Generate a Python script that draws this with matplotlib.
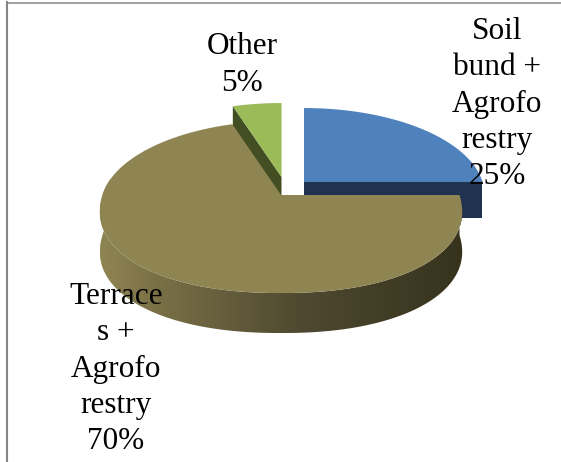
import matplotlib
matplotlib.use('Agg')
import matplotlib.pyplot as plt
from matplotlib.colors import LinearSegmentedColormap
from matplotlib.patches import Polygon
import numpy as np

plt.rcParams['font.family'] = ['Liberation Serif', 'DejaVu Serif']

# clockwise from 12 o'clock
names = ['Soil\nbund +\nAgrofo\nrestry', 'Terrace\ns +\nAgrofo\nrestry', 'Other']
values = [25, 70, 5]
top_colors = ['#4f81bd', '#8f8553', '#9bbb59']
cut_colors = ['#1f3350', '#4a4529', '#434f23']

# where each exploded slice sits and where its label goes (pixels)
apex = [(304, 182), (281, 195), (281.5, 177)]
depth = [36, 40, 36]
label_pos = [(497, 104), (116, 369), (242, 65)]
layer = [5, 8, 2]

RX = 178.5
RY = 86
K = 0.14
NEAR_BULGE = 2.2

side_cmap = LinearSegmentedColormap.from_list(
    'side', [(0, '#8f8553'), (0.15, '#7b7147'), (0.55, '#4e4930'), (1, '#37321c')])


def project(frac, center):
    # frac is position round the pie, 0 = top, going clockwise
    a = 2 * np.pi * np.asarray(frac)
    px = np.sin(a)
    py = np.cos(a)
    # near side of the pie looks a bit fuller than a true ellipse
    near = py < 0
    px = np.where(near, np.sign(px) * np.abs(px) ** (2 / NEAR_BULGE), px)
    py = np.where(near, -np.abs(py) ** (2 / NEAR_BULGE), py)
    w = 1 + K * py
    return center[0] + RX * px / w, center[1] - RY * (py + K) / w + RY * K


fig = plt.figure(figsize=(5.61, 4.62), dpi=100)
ax = fig.add_axes([0, 0, 1, 1])

edges = np.cumsum([0] + values) / sum(values)

for i in range(len(values)):
    start, end = edges[i], edges[i + 1]
    c = apex[i]
    d = depth[i]
    z = layer[i]
    t = np.linspace(start, end, 300)
    x, y = project(t, c)

    if names[i].startswith('Terrace'):
        # outer wall with left to right shading
        front = np.cos(2 * np.pi * t) < 0.2
        fx, fy = x[front], y[front]
        outline = np.vstack([np.column_stack([fx, fy]), np.column_stack([fx, fy + d])[::-1]])
        wall = Polygon(outline, closed=True, fc='none', ec='none', transform=ax.transData)
        ax.add_patch(wall)
        img = ax.imshow(np.linspace(0, 1, 256)[None, :], extent=(fx.min(), fx.max(), fy.max() + d, fy.min()),
                        cmap=side_cmap, aspect='auto', zorder=z, interpolation='bilinear')
        img.set_clip_path(wall)
    else:
        # cut face that looks to the front
        ex, ey = project(end if i == 0 else start, c)
        ax.add_patch(Polygon([c, (ex, ey), (ex, ey + d), (c[0], c[1] + d)], closed=True,
                             fc=cut_colors[i], ec='none', zorder=z))

    # top face
    pts = np.vstack([[c], np.column_stack([x, y])])
    ax.add_patch(Polygon(pts, closed=True, fc=top_colors[i], ec='none', zorder=z + 1))

for name, val, pos in zip(names, values, label_pos):
    ax.text(pos[0], pos[1], '%s\n%d%%' % (name, val), ha='center', va='center', fontsize=22.5,
            linespacing=1.34, color='black', zorder=20)

# chart frame
ax.plot([7, 7], [2, 462], color='#868686', lw=1.5, zorder=1)
ax.plot([7, 561], [2.5, 2.5], color='#868686', lw=1.1, zorder=1)

ax.set_xlim(0, 561)
ax.set_ylim(462, 0)
ax.axis('off')

fig.savefig('out.png', dpi=100)
